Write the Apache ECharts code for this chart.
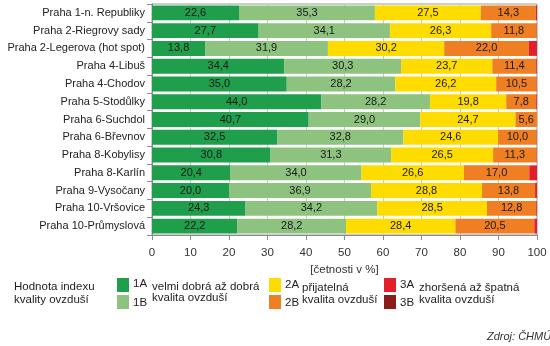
<!DOCTYPE html>
<html><head><meta charset="utf-8">
<script src="https://cdn.jsdelivr.net/npm/echarts@6/dist/echarts.min.js"></script>
<style>html,body{margin:0;padding:0;background:#fff}#c{width:550px;height:346px}</style>
</head><body><div id="c"></div>
<script>
const categories = ["Praha 1-n. Republiky","Praha 2-Riegrovy sady","Praha 2-Legerova (hot spot)","Praha 4-Libuš","Praha 4-Chodov","Praha 5-Stodůlky","Praha 6-Suchdol","Praha 6-Břevnov","Praha 8-Kobylisy","Praha 8-Karlín","Praha 9-Vysočany","Praha 10-Vršovice","Praha 10-Průmyslová"];
const s1A = [22.6,27.7,13.8,34.4,35.0,44.0,40.7,32.5,30.8,20.4,20.0,24.3,22.2];
const s1B = [35.3,34.1,31.9,30.3,28.2,28.2,29.0,32.8,31.3,34.0,36.9,34.2,28.2];
const s2A = [27.5,26.3,30.2,23.7,26.2,19.8,24.7,24.6,26.5,26.6,28.8,28.5,28.4];
const s2B = [14.3,11.8,22.0,11.4,10.5,7.8,5.6,10.0,11.3,17.0,13.8,12.8,20.5];
const s3A = [0.3,0.1,2.1,0.2,0.1,0.2,0.0,0.1,0.1,2.0,0.5,0.2,0.7];
const s3B = [0,0,0,0,0,0,0,0,0,0,0,0,0];
const seriesNames = ["1A","1B","2A","2B","3A","3B"];
const xTicks = [0,10,20,30,40,50,60,70,80,90,100];

const colors = ["#1f9e4b","#8dc37e","#ffdc00","#ef7f22","#e3202a","#8a1c1c"];
const FONT = "Liberation Sans, Arial, sans-serif";
const allData = [s1A,s1B,s2A,s2B,s3A,s3B];

const chart = echarts.init(document.getElementById('c'), null, {renderer:'canvas'});
const series = allData.map((d,i)=>({
  name: seriesNames[i], type:'bar', stack:'t', data:d, barCategoryGap:'16%',
  itemStyle:{color:colors[i]},
  label:{show:i<4, position:'inside', fontFamily:FONT, fontSize:11, color:'#1a1a1a',
    formatter:p=> p.value>=3 ? p.value.toFixed(1).replace('.',',') : ''}
}));

const lg = (x,y,text,extra)=>Object.assign({type:'text', left:x, top:y, style:{text, font:'11.5px '+FONT, fill:'#222'}},extra||{});
const box = (x,y,c)=>({type:'rect', shape:{x,y,width:12,height:14}, style:{fill:c}});

chart.setOption({
  animation:false,
  grid:{left:152, right:13, top:4, bottom:111, outerBoundsMode:'none', containLabel:false, show:true, borderColor:'#9a9a9a', borderWidth:1},
  xAxis:{type:'value', min:0, max:100, interval:10,
    name:'[četnosti v %]', nameLocation:'middle', nameGap:24,
    nameTextStyle:{fontFamily:FONT, fontSize:11.5, color:'#333'},
    axisLine:{show:true, lineStyle:{color:'#8a8a8a'}},
    axisTick:{show:true, length:5, lineStyle:{color:'#8a8a8a'}},
    axisLabel:{fontFamily:FONT, fontSize:11.5, color:'#333', margin:12, formatter:v=>xTicks.includes(v)?String(v):''},
    splitLine:{show:true, lineStyle:{color:'#c8c8c8'}}},
  yAxis:{type:'category', data:categories, inverse:true,
    axisLine:{show:true, lineStyle:{color:'#8a8a8a'}},
    axisTick:{show:true, length:5, lineStyle:{color:'#8a8a8a'}},
    axisLabel:{fontFamily:FONT, fontSize:11, color:'#222', margin:7}},
  series,
  graphic:[
    lg(14,281,'Hodnota indexu'), lg(14,294,'kvality ovzduší'),
    box(117,278,colors[0]), box(117,295,colors[1]),
    lg(133,278,'1A'), lg(133,297,'1B'),
    lg(152,281,'velmi dobrá až dobrá'), lg(152,292,'kvalita ovzduší'),
    box(269,278,colors[2]), box(269,295,colors[3]),
    lg(285,279,'2A'), lg(285,297,'2B'),
    lg(302,282,'přijatelná'), lg(302,294,'kvalita ovzduší'),
    box(384,278,colors[4]), box(384,295,colors[5]),
    lg(400,279,'3A'), lg(400,297,'3B'),
    lg(419,282,'zhoršená až špatná'), lg(419,294,'kvalita ovzduší'),
    {type:'text', left:487, top:331, style:{text:'Zdroj: ČHMÚ', font:'italic 11px '+FONT, fill:'#333'}}
  ]
});
</script></body></html>
